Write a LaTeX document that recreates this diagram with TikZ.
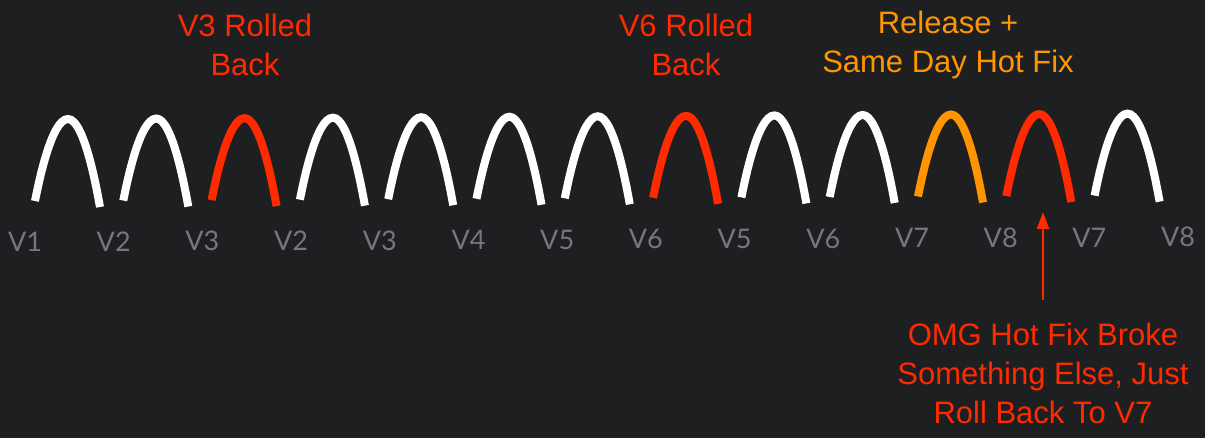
\documentclass[tikz,border=0pt]{standalone}
\usepackage{fontspec}
\setmainfont{Liberation Sans}
\newfontfamily\verfont{Lato}
\usetikzlibrary{arrows.meta}

\definecolor{bgdark}{RGB}{30,31,33}
\definecolor{rollred}{RGB}{255,42,0}
\definecolor{fixorange}{RGB}{255,149,0}
\definecolor{vergrey}{RGB}{118,118,130}

\begin{document}
\begin{tikzpicture}[x=1pt, y=-1pt,
    arch/.style={line width=8pt},
    ver/.style={text=vergrey, inner sep=0, font=\verfont\fontsize{27}{27}\selectfont},
    note/.style={align=center, inner sep=0, font=\fontsize{31}{39}\selectfont},
    fixarrow/.style={rollred, line width=2.5pt, -{Triangle[length=17pt, width=12pt]}}
]
    \fill[bgdark] (0,0) rectangle (1205,438);
    \useasboundingbox (0,0) rectangle (1205,438);

    % releases
    \foreach \c [count=\i] in {white,white,rollred,white,white,white,white,rollred,white,white,fixorange,rollred,white} {
        \pgfmathsetmacro{\x}{68+88.3*(\i-1)}
        \pgfmathsetmacro{\y}{119-0.45*(\i-1)}
        \draw[arch, draw=\c] (\x-33,\y+82) parabola bend (\x,\y) (\x+32,\y+88);
    }

    % versions
    \foreach \v [count=\k from 0] in {V1,V2,V3,V2,V3,V4,V5,V6,V5,V6,V7,V8,V7,V8}
        \node[ver] (v\k) at ({25+88.7*\k}, {242-0.38*\k}) {\v};

    \node[note, text=rollred] (back3) at (245,45) {V3 Rolled\\Back};
    \node[note, text=rollred] (back6) at (686,45) {V6 Rolled\\Back};
    \node[note, text=fixorange] (hotfix) at (948,45) {Release +\\Same Day Hot Fix};

    \node[note, text=rollred] (fixnote) at (1043,373) {OMG Hot Fix Broke\\Something Else, Just\\Roll Back To V7};
    \coordinate (fixtip) at (1043,212);
    \draw[fixarrow] ([yshift=22pt]fixnote.north) -- (fixtip);

\end{tikzpicture}
\end{document}
